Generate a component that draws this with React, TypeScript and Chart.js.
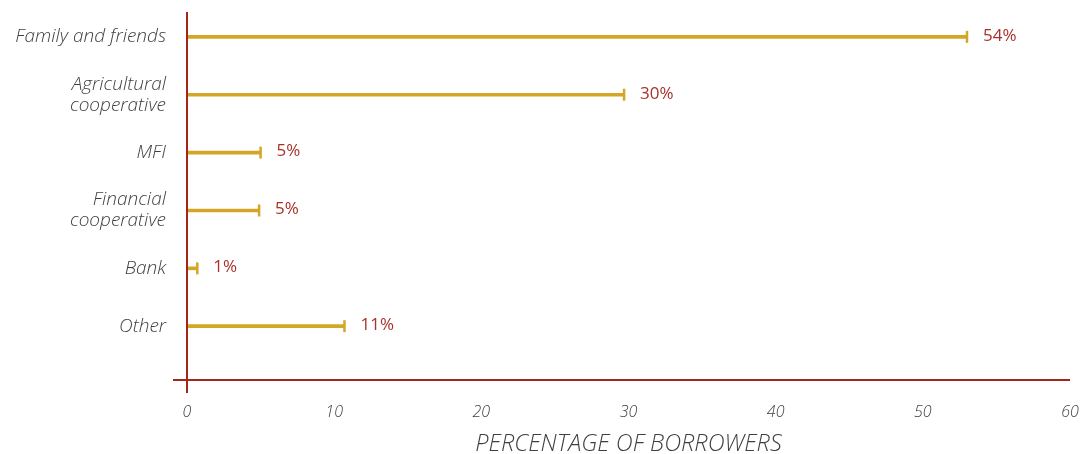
import React, { useEffect, useRef } from "react";
import { Chart, registerables } from "chart.js";

Chart.register(...registerables);

const categories: (string | string[])[] = [
  "Family and friends",
  ["Agricultural", "cooperative"],
  "MFI",
  ["Financial", "cooperative"],
  "Bank",
  "Other",
];
const drawnValues = [53, 29.7, 5, 4.9, 0.7, 10.7];
const valueLabels = ["54%", "30%", "5%", "5%", "1%", "11%"];
const xTicks = [0, 10, 20, 30, 40, 50, 60];
const xTitle = "PERCENTAGE OF BORROWERS";

const GOLD = "#D5A625";
const AXIS = "#A3261B";
const LABEL_RED = "#A8322A";
const TEXT = "#3f3f3f";
const FONT = "'Open Sans', 'Noto Sans', sans-serif";

export default function App() {
  const ref = useRef<HTMLCanvasElement | null>(null);

  useEffect(() => {
    document.body.style.margin = "0";
    const canvas = ref.current!;
    const overlay = {
      id: "overlay",
      afterDatasetsDraw(chart: any) {
        const ctx = chart.ctx;
        const xs = chart.scales.x;
        const ys = chart.scales.y;
        ctx.save();
        ctx.strokeStyle = GOLD;
        ctx.lineWidth = 2.5;
        drawnValues.forEach((v, i) => {
          const x = xs.getPixelForValue(v);
          const y = ys.getPixelForValue(i);
          ctx.beginPath();
          ctx.moveTo(x, y - 6);
          ctx.lineTo(x, y + 6);
          ctx.stroke();
        });
        ctx.fillStyle = LABEL_RED;
        ctx.font = `400 17px ${FONT}`;
        ctx.textAlign = "left";
        ctx.textBaseline = "middle";
        drawnValues.forEach((v, i) => {
          const x = xs.getPixelForValue(v);
          const y = ys.getPixelForValue(i);
          ctx.fillText(valueLabels[i], x + 16, y - 1);
        });
        ctx.strokeStyle = AXIS;
        ctx.lineWidth = 2;
        const x0 = xs.getPixelForValue(0);
        ctx.beginPath();
        ctx.moveTo(x0, chart.chartArea.top);
        ctx.lineTo(x0, chart.chartArea.bottom + 13);
        ctx.stroke();
        ctx.beginPath();
        ctx.moveTo(x0 - 14, chart.chartArea.bottom);
        ctx.lineTo(chart.chartArea.right, chart.chartArea.bottom);
        ctx.stroke();
        ctx.restore();
      },
    };

    const chart = new Chart(canvas, {
      type: "bar",
      data: {
        datasets: [
          {
            data: drawnValues.map((v, i) => ({ x: v, y: i })),
            backgroundColor: GOLD,
            barThickness: 3,
            borderWidth: 0,
          } as any,
        ],
      },
      options: {
        indexAxis: "y",
        animation: false,
        responsive: false,
        maintainAspectRatio: false,
        layout: { padding: { top: 12, right: 13, left: 0, bottom: 0 } },
        plugins: {
          legend: { display: false },
          tooltip: { enabled: false },
        },
        scales: {
          x: {
            type: "linear",
            min: 0,
            max: 60,
            offset: false,
            afterBuildTicks: (s: any) => {
              s.ticks = xTicks.map((v) => ({ value: v }));
            },
            grid: { display: false, drawTicks: false },
            border: { display: false },
            ticks: {
              color: TEXT,
              padding: 23,
              font: { family: FONT, size: 16, style: "italic", weight: 300 as any },
              maxRotation: 0,
            },
            title: {
              display: true,
              text: xTitle,
              color: TEXT,
              font: { family: FONT, size: 23.5, style: "italic", weight: 300 as any, lineHeight: 1 },
              padding: { top: 4, bottom: -2 },
            },
            afterFit: (s: any) => {
              s.height = 74;
              s.paddingLeft = 0;
              s.paddingRight = 0;
            },
          },
          y: {
            type: "linear",
            min: -0.43,
            max: 5.93,
            reverse: true,
            offset: false,
            afterBuildTicks: (s: any) => {
              s.ticks = categories.map((_, i) => ({ value: i }));
            },
            grid: { display: false, drawTicks: false },
            border: { display: false },
            ticks: {
              color: TEXT,
              padding: 21,
              autoSkip: false,
              callback: (v: any) => categories[Number(v)] as any,
              font: { family: FONT, size: 19, style: "italic", weight: 300 as any, lineHeight: 1.1 },
            },
            afterFit: (s: any) => {
              s.width = 187;
              s.paddingTop = 0;
              s.paddingBottom = 0;
            },
          },
        },
      },
      plugins: [overlay],
    } as any);

    return () => chart.destroy();
  }, []);

  return (
    <div style={{ width: 1083, height: 454, position: "relative" }}>
      <canvas ref={ref} width={1083} height={454} />
    </div>
  );
}
